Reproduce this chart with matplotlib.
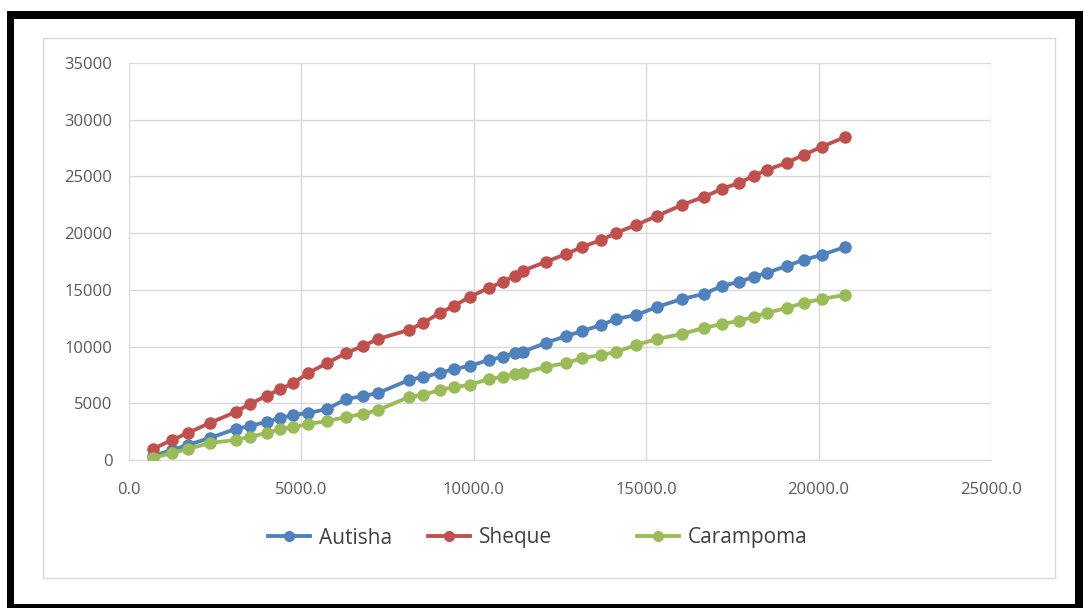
import matplotlib.pyplot as plt
from matplotlib.patches import Rectangle
from matplotlib.lines import Line2D
from matplotlib.ticker import FormatStrFormatter

# values
x_vals = [694, 1243, 1705, 2341, 3092, 3497, 3988, 4393, 4769, 5202,
          5751, 6301, 6792, 7225, 8121, 8526, 9017, 9422, 9884, 10434,
          10838, 11185, 11416, 12081, 12688, 13150, 13699, 14133, 14711, 15318,
          16040, 16676, 17197, 17688, 18121, 18497, 19075, 19566, 20087, 20780]

autisha = [353, 882, 1323, 1940, 2734, 2999, 3352, 3704, 3969, 4145,
           4498, 5380, 5645, 5909, 7056, 7321, 7673, 8026, 8291, 8820,
           9085, 9437, 9526, 10319, 10937, 11378, 11907, 12436, 12789, 13495,
           14200, 14641, 15347, 15700, 16141, 16493, 17111, 17640, 18081, 18787]

sheque = [970, 1764, 2381, 3263, 4233, 4938, 5644, 6262, 6791, 7673,
          8555, 9436, 10054, 10671, 11465, 12081, 12963, 13580, 14376, 15170,
          15700, 16229, 16670, 17464, 18169, 18787, 19404, 20021, 20727, 21521,
          22491, 23197, 23902, 24431, 25049, 25578, 26195, 26901, 27607, 28489]

carampoma = [176, 617, 970, 1499, 1764, 2029, 2381, 2734, 2911, 3175,
             3440, 3793, 4057, 4410, 5557, 5733, 6174, 6439, 6615, 7144,
             7321, 7585, 7673, 8203, 8555, 8996, 9261, 9526, 10143, 10672,
             11113, 11642, 11995, 12260, 12613, 12966, 13406, 13847, 14200, 14553]

series_names = ['Autisha', 'Sheque', 'Carampoma']
series_colors = ['#4F81BD', '#C0504D', '#9BBB59']

W, H = 1086, 608
plt.rcParams['font.family'] = ['Open Sans', 'DejaVu Sans']

fig = plt.figure(figsize=(W / 100, H / 100), dpi=100)


def box(x0, y0, x1, y1, **kw):
    # pixel box (top-left origin) -> figure rectangle
    return Rectangle((x0 / W, 1 - y1 / H), (x1 - x0) / W, (y1 - y0) / H,
                     transform=fig.transFigure, **kw)


# black frame
for b in [(7, 11, 1083, 19), (7, 11, 14, 608), (1075, 11, 1083, 608), (7, 604, 1083, 608)]:
    fig.patches.append(box(*b, facecolor='black', edgecolor='none', zorder=0))
# light chart-area border
fig.patches.append(box(43, 38, 1055, 578, facecolor='none', edgecolor='#D9D9D9', lw=1, zorder=0))

ax = fig.add_axes([129 / W, 1 - 460 / H, (991 - 129) / W, (460 - 63) / H])

for ys, name, col in zip([autisha, sheque, carampoma], series_names, series_colors):
    ax.plot(x_vals, ys, color=col, lw=2.75, marker='o', markersize=9,
            markeredgewidth=0, label=name, zorder=3)

ax.set_xlim(0, 25000)
ax.set_ylim(0, 35000)
ax.set_xticks(range(0, 25001, 5000))
ax.set_yticks(range(0, 35001, 5000))
ax.xaxis.set_major_formatter(FormatStrFormatter('%.1f'))
ax.grid(True, color='#D9D9D9', lw=1)
ax.set_axisbelow(True)
for s in ['top', 'right', 'left']:
    ax.spines[s].set_visible(False)
ax.spines['bottom'].set_color('#D9D9D9')
ax.tick_params(length=0, labelsize=12, labelcolor='#595959')
ax.tick_params(axis='x', pad=16)
ax.tick_params(axis='y', pad=12)

# legend entries placed separately, as in the reference
legend_x = [268, 428, 637]
for name, col, lx in zip(series_names, series_colors, legend_x):
    h = Line2D([], [], color=col, lw=2.75, marker='o', markersize=8, markeredgewidth=0)
    leg = fig.legend([h], [name], loc='center left', bbox_to_anchor=(lx / W, 1 - 538 / H),
                     frameon=False, fontsize=15, handlelength=2.0, handletextpad=0.45,
                     borderpad=0, borderaxespad=0)
    for t in leg.get_texts():
        t.set_color('#404040')

fig.savefig('out.png', dpi=100)
